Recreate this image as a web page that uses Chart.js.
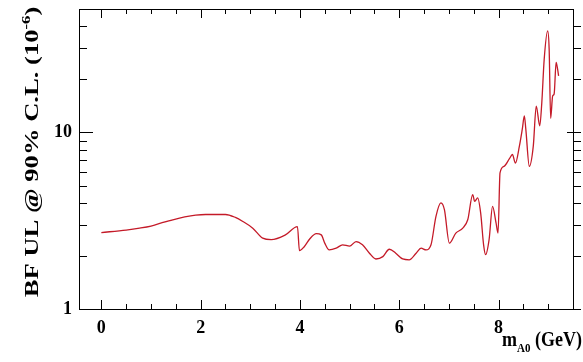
<!DOCTYPE html>
<html>
<head>
<meta charset="utf-8">
<script src="https://cdn.jsdelivr.net/npm/chart.js@4/dist/chart.umd.min.js"></script>
<style>
  body { margin: 0; background: #fff; }
  #wrap { width: 583px; height: 362px; }
</style>
</head>
<body>
<div id="wrap"><canvas id="ulChart" width="583" height="362"></canvas></div>
<script>
// m_A0 (GeV) and BF upper limit (1e-6)
var massX = [0, 0.5, 0.77, 1.0, 1.21, 1.44, 1.68, 1.9, 2.1, 2.5, 2.7, 2.85, 3.05, 3.25, 3.42, 3.7, 3.95,
    3.99, 4.09, 4.2, 4.33, 4.43, 4.5, 4.59, 4.73, 4.86, 5.0, 5.13, 5.26, 5.4, 5.53, 5.67, 5.8, 5.93,
    6.07, 6.2, 6.34, 6.44, 6.54, 6.64, 6.74, 6.84, 6.91, 7.01, 7.14, 7.28, 7.38, 7.48, 7.52, 7.58,
    7.64, 7.7, 7.74, 7.81, 7.88, 7.95, 7.99, 8.03, 8.11, 8.22, 8.28, 8.34, 8.42, 8.48, 8.52, 8.55,
    8.62, 8.7, 8.76, 8.83, 8.87, 8.92, 8.99, 9.02, 9.05, 9.09, 9.12, 9.16, 9.19, 9.21];
var bfUL = [2.71, 2.8, 2.87, 2.95, 3.07, 3.2, 3.32, 3.4, 3.43, 3.43, 3.3, 3.13, 2.87, 2.52, 2.47, 2.62, 2.93,
    2.14, 2.26, 2.5, 2.67, 2.63, 2.36, 2.16, 2.21, 2.31, 2.27, 2.41, 2.31, 2.07, 1.92, 1.98, 2.18, 2.07,
    1.92, 1.9, 2.07, 2.21, 2.16, 2.31, 3.35, 3.99, 3.65, 2.36, 2.69, 2.87, 3.2, 4.44, 4.07, 4.26,
    3.5, 2.3, 2.03, 2.47, 3.81, 3.07, 2.69, 5.9, 6.43, 7.1, 7.5, 6.7, 8.36, 10.5, 12.4, 10.4,
    6.43, 8.36, 14.1, 10.9, 14.5, 26, 37.6, 29.5, 12.0, 16.1, 16.5, 24.9, 22.8, 20.9];

var xLabelTicks = [0, 2, 4, 6, 8];
var xMinorTicks = [0.5, 1, 1.5, 2.5, 3, 3.5, 4.5, 5, 5.5, 6.5, 7, 7.5, 8.5, 9, 9.5];
var yLabelTicks = [1, 10];
var yMinorTicks = [2, 3, 4, 5, 6, 7, 8, 9, 20, 30, 40];

var serif = '"Liberation Serif", "DejaVu Serif", serif';

// draw text made of parts (for sub/superscripts)
function richText(ctx, parts, x, y, align) {
    var total = 0;
    parts.forEach(function (p) {
        ctx.font = 'bold ' + p.size + 'px ' + serif;
        p.w = ctx.measureText(p.t).width;
        total += p.w;
    });
    var cx = align === 'right' ? x - total : (align === 'center' ? x - total / 2 : x);
    parts.forEach(function (p) {
        ctx.font = 'bold ' + p.size + 'px ' + serif;
        ctx.fillText(p.t, cx, y + (p.dy || 0));
        cx += p.w;
    });
}

var rootFrame = {
    id: 'rootFrame',
    afterDraw: function (chart) {
        var ctx = chart.ctx, a = chart.chartArea;
        var xs = chart.scales.x, ys = chart.scales.y;
        ctx.save();
        ctx.strokeStyle = '#000';
        ctx.lineWidth = 1;
        ctx.strokeRect(a.left + 0.5, a.top + 0.5, a.right - a.left, a.bottom - a.top);

        ctx.beginPath();
        function xt(v, len) {
            var px = Math.round(xs.getPixelForValue(v)) + 0.5;
            ctx.moveTo(px, a.bottom); ctx.lineTo(px, a.bottom - len);
            ctx.moveTo(px, a.top); ctx.lineTo(px, a.top + len);
        }
        function yt(v, lenL, rIn, rOut) {
            var py = Math.round(ys.getPixelForValue(v)) + 0.5;
            ctx.moveTo(a.left, py); ctx.lineTo(a.left + lenL, py);
            ctx.moveTo(a.right - rIn, py); ctx.lineTo(a.right + rOut, py);
        }
        xLabelTicks.forEach(function (v) { xt(v, 9); });
        xMinorTicks.forEach(function (v) { if (v < xs.max) xt(v, 5); });
        yLabelTicks.forEach(function (v) { yt(v, 14, 6, 8); });
        yMinorTicks.forEach(function (v) { yt(v, 8, 0, 8); });
        ctx.stroke();

        ctx.fillStyle = '#000';
        ctx.textBaseline = 'alphabetic';
        // x title (original picture is stretched vertically)
        ctx.save();
        ctx.translate(0, 346);
        ctx.scale(1, 1.2);
        richText(ctx, [
            { t: 'm', size: 18 },
            { t: 'A0', size: 11, dy: 5 },
            { t: ' (GeV)', size: 18 }
        ], 582, 0, 'right');
        ctx.restore();
        // y title
        ctx.translate(38, 152);
        ctx.rotate(-Math.PI / 2);
        ctx.scale(1.4, 1);
        richText(ctx, [
            { t: 'BF UL @ 90% C.L. (10', size: 19 },
            { t: '-6', size: 12, dy: -8 },
            { t: ')', size: 19 }
        ], 0, 0, 'center');
        ctx.restore();
    }
};

new Chart(document.getElementById('ulChart'), {
    type: 'line',
    data: {
        datasets: [{
            data: massX.map(function (m, i) { return { x: m, y: bfUL[i] }; }),
            borderColor: '#c41a28',
            borderWidth: 1.3,
            pointRadius: 0,
            cubicInterpolationMode: 'monotone',
            fill: false
        }]
    },
    options: {
        responsive: false,
        animation: false,
        layout: { padding: { left: 0, top: 9, right: 10, bottom: 0 } },
        plugins: { legend: { display: false }, tooltip: { enabled: false } },
        scales: {
            x: {
                type: 'linear',
                min: -0.45,
                max: 9.5,
                grid: { display: false, drawTicks: false },
                border: { display: false },
                afterBuildTicks: function (s) { s.ticks = xLabelTicks.map(function (v) { return { value: v }; }); },
                afterFit: function (s) { s.height = 53; s.paddingLeft = 0; s.paddingRight = 0; },
                ticks: {
                    padding: 9,
                    color: '#000',
                    maxRotation: 0,
                    font: { family: serif, size: 18, weight: 'bold' }
                }
            },
            y: {
                type: 'logarithmic',
                min: 1,
                max: 50,
                grid: { display: false, drawTicks: false },
                border: { display: false },
                afterBuildTicks: function (s) { s.ticks = yLabelTicks.map(function (v) { return { value: v }; }); },
                afterFit: function (s) { s.width = 79; s.paddingTop = 0; s.paddingBottom = 0; },
                ticks: {
                    padding: 7,
                    color: '#000',
                    font: { family: serif, size: 18, weight: 'bold' },
                    callback: function (v) { return String(v); }
                }
            }
        }
    },
    plugins: [rootFrame]
});
</script>
</body>
</html>
